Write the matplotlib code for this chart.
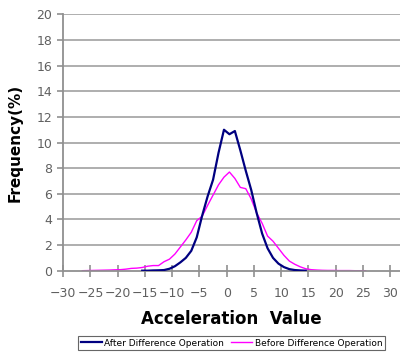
import matplotlib
matplotlib.use('Agg')
import matplotlib.pyplot as plt

# After difference operation (half-integer bins)
after_x = [-15.5, -14.5, -13.5, -12.5, -11.5, -10.5, -9.5, -8.5, -7.5, -6.5, -5.5, -4.5, -3.5, -2.5,
           -1.5, -0.5, 0.5, 1.5, 2.5, 3.5, 4.5, 5.5, 6.5, 7.5, 8.5, 9.5, 10.5, 11.5, 12.5, 13.5, 14.5]
after_y = [0.0, 0.0, 0.02, 0.03, 0.05, 0.15, 0.35, 0.65, 1.0, 1.55, 2.6, 4.3, 5.8, 7.1,
           9.2, 11.0, 10.65, 10.9, 9.4, 7.8, 6.3, 4.5, 2.9, 1.75, 1.0, 0.55, 0.28, 0.12, 0.05, 0.02, 0.0]

# Before difference operation
before_x = [-26.5, -25.5, -24.5, -23.5, -22.5, -21.5, -20.5, -19.5, -18.5, -17.5, -16.5, -15.5, -14.5,
            -13.5, -12.5, -11.5, -10.5, -9.5, -8.5, -7.5, -6.5, -5.5, -4.5, -3.5, -2.5, -1.5, -0.5,
            0.5, 1.5, 2.5, 3.5, 4.5, 5.5, 6.5, 7.5, 8.5, 9.5, 10.5, 11.5, 12.5, 13.5, 14.5, 15.5,
            16.5, 17.5, 18.5, 19.5, 20.5, 21.5, 22.5, 23.5, 24.5, 25.5]
before_y = [0.0, 0.01, 0.02, 0.03, 0.04, 0.05, 0.07, 0.08, 0.12, 0.18, 0.2, 0.25, 0.35,
            0.4, 0.4, 0.7, 0.9, 1.3, 1.85, 2.4, 3.0, 3.9, 4.25, 5.1, 5.9, 6.7, 7.3,
            7.7, 7.2, 6.5, 6.4, 5.6, 4.5, 3.7, 2.7, 2.3, 1.75, 1.2, 0.75, 0.5, 0.3, 0.15, 0.08,
            0.05, 0.03, 0.02, 0.02, 0.01, 0.01, 0.01, 0.0, 0.0, 0.0]

x_ticks = list(range(-30, 31, 5))
y_ticks = list(range(0, 21, 2))

fig = plt.figure(figsize=(4, 3.52), dpi=100)
ax = fig.add_axes([0.158, 0.231, 0.842, 0.728])

for y in y_ticks[1:]:
    ax.axhline(y, color='#a8a8a8', lw=1.3, zorder=1)

ax.plot(after_x, after_y, color='#000080', lw=1.6, label='After Difference Operation', zorder=3)
ax.plot(before_x, before_y, color='#ff00ff', lw=1.0, label='Before Difference Operation', zorder=2)

ax.set_xlim(-30, 31.8)
ax.set_ylim(0, 20)
ax.set_xticks(x_ticks)
ax.set_yticks(y_ticks)
ax.set_xticklabels([str(t).replace('-', '\u2212') for t in x_ticks])

for s in ['top', 'right']:
    ax.spines[s].set_visible(False)
for s in ['left', 'bottom']:
    ax.spines[s].set_color('#909090')
    ax.spines[s].set_linewidth(1.3)

ax.tick_params(axis='x', direction='inout', length=8, width=1.2, color='#909090',
               labelsize=9, labelcolor='#606060', pad=8)
ax.tick_params(axis='y', direction='out', length=4, width=1.2, color='#909090',
               labelsize=9, labelcolor='#606060', pad=4)

ax.set_ylabel('Frequency(%)', fontsize=11, fontweight='bold', labelpad=10)
ax.set_xlabel('Acceleration  Value', fontsize=12, fontweight='bold', labelpad=7)

leg = fig.legend(loc='center', bbox_to_anchor=(0.579, 0.0255), ncol=2, fontsize=6.5,
                 frameon=True, fancybox=False, handlelength=2.3, handletextpad=0.3,
                 columnspacing=0.8, borderpad=0.3, edgecolor='#404040')
leg.get_frame().set_linewidth(0.8)

fig.savefig('out.png', dpi=100)
